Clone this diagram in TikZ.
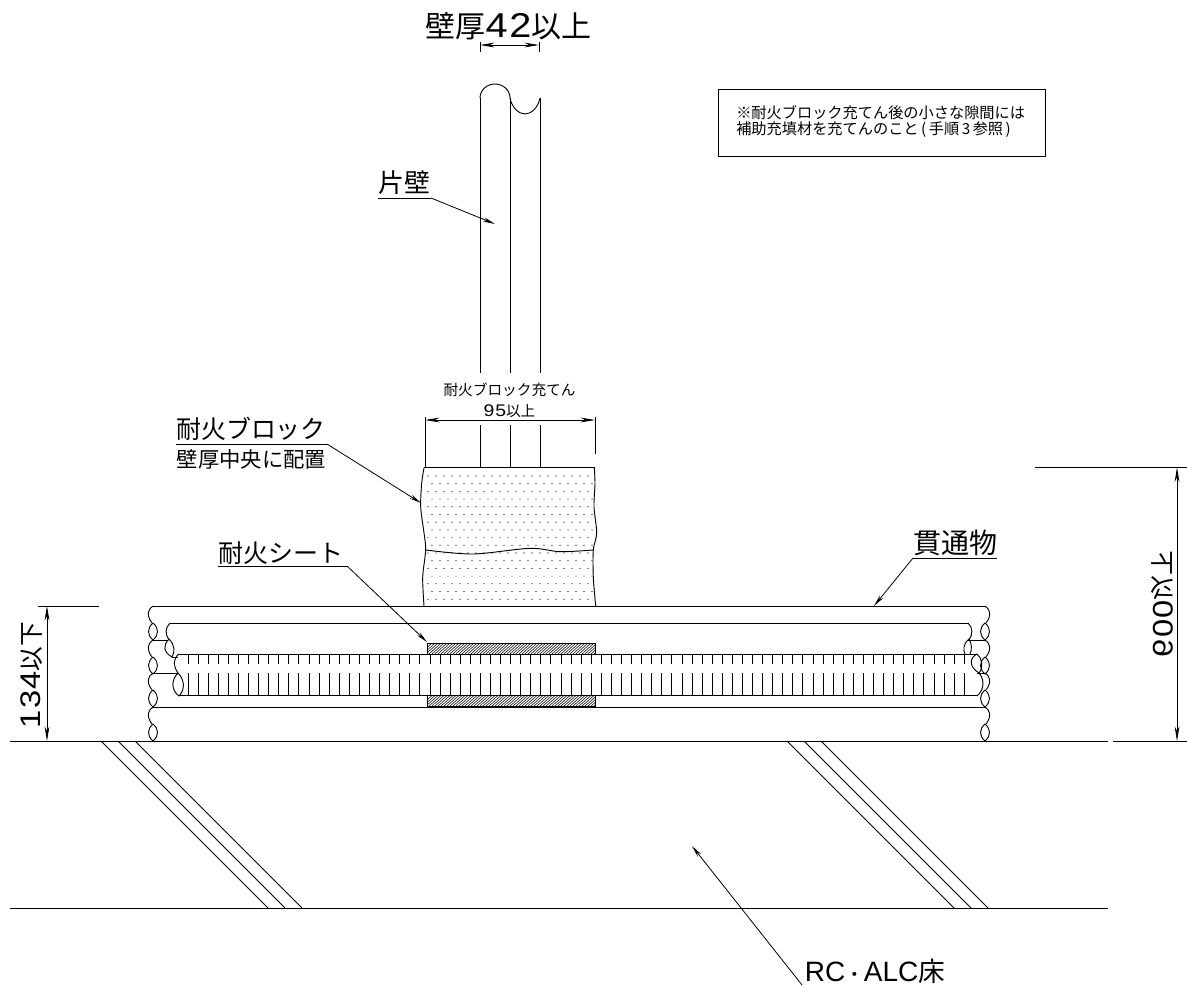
\documentclass[tikz,border=0pt]{standalone}
\usepackage{fontspec}
\setmainfont{Noto Sans CJK JP}
\newfontfamily\wide[FakeStretch=1.15,LetterSpace=5,Scale=1.15]{Liberation Sans}
\newfontfamily\latin{Liberation Sans}
\usetikzlibrary{arrows.meta}
\newcommand{\D}[1]{{\wide #1}}
\newcommand{\fs}[1]{\fontsize{#1}{#1}\selectfont}
\tikzset{
  ln/.style={line width=0.7pt,black},
  thin ln/.style={line width=0.6pt,black},
  dimline/.style={line width=0.6pt,black,{Stealth[length=11pt,width=3.6pt]}-{Stealth[length=11pt,width=3.6pt]}},
  leader/.style={line width=0.6pt,black,-{Stealth[length=9pt,width=3.2pt]}},
  lab/.style={inner sep=0pt,anchor=center},
}
% break symbols: x, top y, sign (+1 right side, -1 left side)
\newcommand{\brkunit}[3]{%
  \draw[ln] (#1,#2) .. controls ({#1+#3*(-5)},{#2+3}) and ({#1+#3*(-7)},{#2+9}) .. ({#1+#3*(-1)},{#2+17}) ;
  \draw[ln] (#1,{#2+17}) .. controls ({#1-6},{#2+22}) and ({#1-6},{#2+29}) .. (#1,{#2+34})
            .. controls ({#1+6},{#2+29}) and ({#1+6},{#2+22}) .. (#1,{#2+17});
}
\begin{document}
\begin{tikzpicture}[x=0.75pt,y=-0.75pt]
\useasboundingbox (0,0) rectangle (1187,985);
\fill[white] (0,0) rectangle (1187,985);

% floor
\coordinate (fl) at (10,741); \coordinate (fr) at (1108,741);
\coordinate (fl2) at (1113,741); \coordinate (fr2) at (1187,741);
\coordinate (bl) at (10,908); \coordinate (br) at (1108,908);
\draw[ln] (fl) -- (fr); \draw[ln] (fl2) -- (fr2); \draw[ln] (bl) -- (br);
\foreach \x in {101,118,135}{\draw[thin ln] (\x,741) -- ({\x+167},908);}
\foreach \x in {787,804,821}{\draw[thin ln] (\x,741) -- ({\x+167},908);}

% wall
\foreach \x in {480,510,540}{
  \draw[ln] (\x,98) -- (\x,373);
  \draw[ln] (\x,425) -- (\x,467);
}
\draw[ln] (480,98) .. controls (480,90) and (487,84) .. (495,84) .. controls (503,84) and (510,90) .. (510,98);
\draw[ln] (510,98) .. controls (512,108) and (519,114) .. (525,114) .. controls (531,114) and (538,108) .. (540,98);

% top dimension
\draw[thin ln] (480,42) -- (480,52);
\draw[thin ln] (539,42) -- (539,52);
\coordinate (wl) at (480,45); \coordinate (wr) at (539,45);
\draw[dimline] (wl) -- (wr);
\node[lab] (title) at (508.5,26) {\fs{22.5}壁厚\D{42}以上};

% block
\begin{scope}
\clip plot[smooth] coordinates {(424,468)(421.7,483)(420.7,507)(424,533)(425.7,550)(422.7,577)(424,606)} --
      plot[smooth] coordinates {(595.7,606)(593.3,577)(593.3,550)(596.7,533)(594,507)(595,483)(594.3,468)} -- cycle;
\foreach \r in {0,...,17}{
  \pgfmathsetmacro{\yy}{476+\r*7.7}
  \pgfmathsetmacro{\off}{mod(\r,2)*4}
  \foreach \c in {0,...,21}{
    \fill[black] ({428+\off+\c*8},\yy) circle[radius=0.6];
  }
}
\end{scope}
\draw[ln] plot[smooth] coordinates {(424,468)(421.7,483)(420.7,507)(424,533)(425.7,550)(422.7,577)(424,606)};
\draw[ln] plot[smooth] coordinates {(594.3,468)(595,483)(594,507)(596.7,533)(593.3,550)(593.3,577)(595.7,606)};
\draw[ln] plot[smooth] coordinates {(425.7,550)(473,554)(530,548.3)(560,551.7)(593.3,550)};
\draw[ln] (424,467.5) -- (595,467.5);

% block dimension
\draw[ln] (425,417) -- (425,467);
\draw[ln] (595,417) -- (595,454);
\coordinate (bdl) at (425,420); \coordinate (bdr) at (595,420);
\draw[dimline] (bdl) -- (bdr);
\node[lab] (fill) at (509.5,390) {\fs{11}耐火ブロック充てん};
\node[lab] (fillw) at (509.5,411) {\fs{11}\D{95}以上};

% penetrating items
\draw[ln] (153,606) -- (985,606);
\draw[ln] (170,623) -- (968,623);
\draw[ln] (179,654) -- (977,654);
\draw[ln] (179,695.5) -- (977,695.5);
\draw[ln] (153,707) -- (985,707);
\draw[ln] (153,640) -- (168,640);
\draw[ln] (153,673) -- (178,673);
\draw[ln] (968,640) -- (985,640);
\draw[ln] (977,673) -- (985,673);

% ticks
\foreach \i in {0,...,77}{
  \pgfmathsetmacro{\xx}{188+\i*10.08}
  \draw[thin ln] (\xx,654) -- (\xx,664);
  \draw[thin ln] (\xx,673) -- (\xx,695.5);
}

% outer breaks
\foreach \y in {606,640,673,707}{\brkunit{153}{\y}{1}}
\foreach \y in {606,640,673,707}{\brkunit{985}{\y}{-1}}
% left second / third pipes
\draw[ln] (170,623) .. controls (165,628) and (165,634) .. (169,640);
\draw[ln] (169,639) .. controls (163,645) and (163,652) .. (172,657) .. controls (175,652) and (175,645) .. (169,639);
\draw[ln] (172,657) -- (178,657);
\draw[ln] (179,654) .. controls (173,658) and (173,666) .. (178,673);
\draw[ln] (178,673) .. controls (171,680) and (171,690) .. (179,696) .. controls (185,690) and (185,680) .. (178,673);
% right second / third pipes
\draw[ln] (968,623) .. controls (973,628) and (973,634) .. (969,640);
\draw[ln] (969,639) .. controls (963,644) and (963,650) .. (965,654);
\draw[ln] (969,639) .. controls (972,644) and (972,650) .. (970,654);
\draw[ln] (977,654) .. controls (969,658) and (969,667) .. (979,673) .. controls (984,667) and (982,658) .. (977,654);
\draw[ln] (979,673) .. controls (985,680) and (984,690) .. (977,696);

% sheets
\foreach \yt/\yb in {643/654,695.5/706}{
  \begin{scope}
    \clip (427,\yt) rectangle (595,\yb);
    \foreach \i in {0,...,62}{
      \draw[line width=0.4pt] ({420+\i*3},\yb) -- ({420+\i*3+12},\yt);
    }
  \end{scope}
  \draw[ln] (427,\yt) rectangle (595,\yb);
}

% left dim
\draw[ln] (38,606) -- (99,606);
\coordinate (ldt) at (47,606); \coordinate (ldb) at (47,741);
\draw[dimline] (ldt) -- (ldb);
\node[lab,rotate=90] (h134) at (32,675) {\fs{18.5}\D{134}以下};

% right dim
\draw[ln] (1035,467.5) -- (1187,467.5);
\coordinate (rdt) at (1177,467.5); \coordinate (rdb) at (1177,741);
\draw[dimline] (rdt) -- (rdb);
\node[lab,transform shape,rotate=90,yscale=-1] (h600) at (1162,604) {\fs{18.5}\D{600}以下};

% labels and leaders
\node[lab] (kabe) at (404,183) {\fs{19.5}片壁};
\draw[thin ln] (378,198) -- (431,198);
\coordinate (kabeS) at (431,198); \coordinate (kabeT) at (495,224);
\draw[leader] (kabeS) -- (kabeT);

\node[lab] (block) at (251,429) {\fs{18.7}耐火ブロック};
\node[lab] (blocks) at (251.5,459) {\fs{16}壁厚中央に配置};
\draw[thin ln] (176,444) -- (327,444);
\coordinate (blockS) at (327,444); \coordinate (blockT) at (421,503);
\draw[leader] (blockS) -- (blockT);

\node[lab] (sheet) at (281,553) {\fs{18.7}耐火シート};
\draw[thin ln] (218,566) -- (347,566);
\coordinate (sheetS) at (347,566); \coordinate (sheetT) at (427,642);
\draw[leader] (sheetS) -- (sheetT);

\node[lab] (pipe) at (955,543) {\fs{21}貫通物};
\draw[thin ln] (913,558) -- (997,558);
\coordinate (pipeS) at (913,558); \coordinate (pipeT) at (874,606);
\draw[leader] (pipeS) -- (pipeT);

\node[lab] (rc) at (875,971) {{\latin\fontsize{21}{21}\selectfont RC}\fs{14}・{\latin\fontsize{21}{21}\selectfont ALC}\fs{20}床};
\coordinate (rcS) at (802,985); \coordinate (rcT) at (692,846);
\draw[leader] (rcS) -- (rcT);

% note
\node[draw,thin ln,minimum width=327*0.75pt,minimum height=67*0.75pt,inner sep=0pt] (notebox) at (881.5,122.5) {};
\node[lab,anchor=north west,align=left,font={\fontsize{11.4}{12}\selectfont}] (note) at (736,105) {※耐火ブロック充てん後の小さな隙間には\\補助充填材を充てんのこと\,(\,手順\,3\,参照\,)};
\end{tikzpicture}
\end{document}
